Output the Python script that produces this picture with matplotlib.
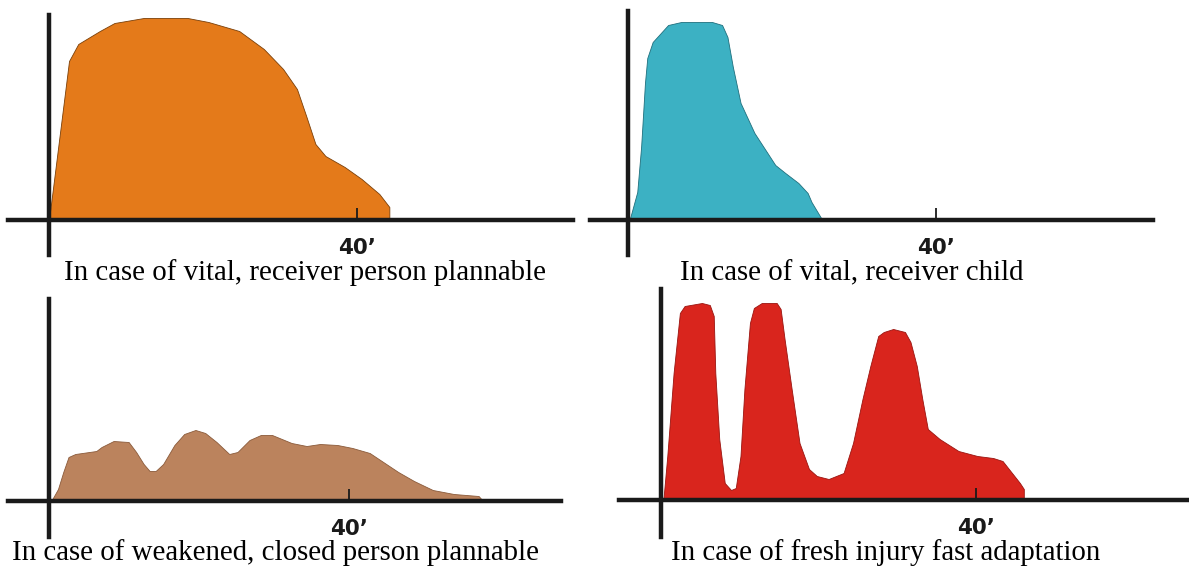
import matplotlib
matplotlib.use("Agg")
import matplotlib.pyplot as plt

W, H = 1189, 569

# ---- data (minutes, relative intensity) ----
orange_x = [0.0, 2.6, 3.8, 6.6, 8.5, 12.3, 18.0, 20.7, 24.7, 27.9, 30.4, 32.2, 33.4, 34.6,
            35.9, 38.4, 40.6, 42.9, 44.2, 44.2]
orange_y = [0, 159, 176, 189, 197, 202, 202, 198, 189, 171, 151, 131, 104, 76,
            64, 53, 41, 26, 13, 0]

teal_x = [0.2, 1.2, 1.7, 2.2, 2.5, 3.2, 5.2, 6.9, 10.9, 12.2, 12.9, 13.6, 14.6, 16.4,
          19.1, 20.4, 22.1, 23.3, 23.8, 25.2]
teal_y = [0, 28, 73, 137, 162, 178, 195, 198, 198, 195, 183, 153, 117, 87,
          55, 47, 37, 27, 18, 0]

brown_x = [0.3, 1.2, 1.9, 2.6, 3.5, 6.3, 7.0, 8.6, 10.6, 11.6, 12.6, 13.4, 14.2, 15.2,
           16.7, 18.0, 19.5, 20.8, 22.3, 24.0, 25.1, 26.7, 28.2, 29.7, 32.3, 34.3,
           36.1, 38.4, 40.4, 42.7, 44.5, 46.5, 48.6, 51.1, 53.9, 57.2, 57.8]
brown_y = [0, 12, 29, 44, 47, 50, 54, 60, 59, 49, 37, 30, 30, 37,
           56, 67, 71, 68, 59, 47, 49, 61, 66, 66, 58, 55,
           57, 56, 53, 48, 39, 29, 20, 11, 7, 5, 0]

red_x = [0.3, 0.8, 1.6, 2.4, 3.0, 5.2, 6.2, 6.7, 6.9, 7.4, 8.1, 8.9, 9.5, 10.1, 10.6,
         11.3, 11.8, 12.8, 14.7, 15.2, 15.7, 16.6, 17.6, 18.8, 19.8, 21.3, 23.2, 24.4,
         25.6, 26.6, 27.6, 28.3, 29.5, 31.0, 31.7, 32.5, 33.2, 33.9, 35.4, 37.8, 40.2,
         42.2, 43.4, 44.4, 45.6, 46.1, 46.1]
red_y = [0, 44, 127, 187, 194, 197, 195, 184, 127, 61, 17, 10, 12, 44, 111,
         177, 192, 197, 197, 191, 161, 111, 57, 31, 24, 21, 27, 57,
         101, 134, 164, 168, 171, 168, 158, 134, 101, 71, 61, 49, 44,
         42, 39, 29, 17, 11, 0]

captions = ["In case of vital, receiver person plannable",
            "In case of vital, receiver child",
            "In case of weakened, closed person plannable",
            "In case of fresh injury fast adaptation"]
tick_minute = 40
tick_label = "40\u2019"

colors = ["#E47A1A", "#3CB1C3", "#BB835D", "#D9251D"]
edges = ["#7a3f08", "#1f6f7d", "#8a5a3a", "#9a1410"]

# panel geometry in pixels: origin x, origin y, px per minute,
# x-axis left/right, y-axis top/bottom, caption centre x/y
panels = [
    dict(x0=49, y0=220, sx=7.7, xl=8, xr=573, yt=15, yb=255, cx=305, cy=273),
    dict(x0=628, y0=220, sx=7.71, xl=590, xr=1153, yt=11, yb=255, cx=852, cy=273),
    dict(x0=49, y0=501, sx=7.51, xl=8, xr=561, yt=299, yb=537, cx=275, cy=553),
    dict(x0=661, y0=500, sx=7.87, xl=619, xr=1189, yt=289, yb=537, cx=886, cy=553),
]
series = [(orange_x, orange_y), (teal_x, teal_y), (brown_x, brown_y), (red_x, red_y)]

fig = plt.figure(figsize=(W / 100, H / 100), dpi=100)
fig.patch.set_facecolor("white")

for p, (xs, ys), c, ec, cap in zip(panels, series, colors, edges, captions):
    left = p["xl"] / W
    bottom = 1 - p["yb"] / H
    width = (p["xr"] - p["xl"]) / W
    height = (p["yb"] - p["yt"]) / H
    ax = fig.add_axes([left, bottom, width, height])
    ax.set_xlim((p["xl"] - p["x0"]) / p["sx"], (p["xr"] - p["x0"]) / p["sx"])
    ax.set_ylim(p["y0"] - p["yb"], p["y0"] - p["yt"])
    ax.fill_between(xs, ys, 0, color=c, edgecolor=ec, linewidth=0.6, zorder=1)
    for s in ["top", "right"]:
        ax.spines[s].set_visible(False)
    ax.spines["left"].set_position(("data", 0))
    ax.spines["bottom"].set_position(("data", 0))
    for s in ["left", "bottom"]:
        ax.spines[s].set_linewidth(3.2)
        ax.spines[s].set_color("#1a1a1a")
        ax.spines[s].set_zorder(3)
    ax.set_yticks([])
    ax.set_xticks([tick_minute])
    ax.set_xticklabels([tick_label], fontsize=15.5, fontweight="heavy",
                       family="DejaVu Sans", color="#1a1a1a")
    ax.tick_params(axis="x", direction="in", length=9, width=1.3, color="#1a1a1a",
                   pad=13)
    ax.patch.set_alpha(0)
    fig.text(p["cx"] / W, 1 - p["cy"] / H, cap, ha="center", va="center",
             fontsize=20.8, family="Liberation Serif", color="black")

fig.savefig("out.png", dpi=100, facecolor="white")
